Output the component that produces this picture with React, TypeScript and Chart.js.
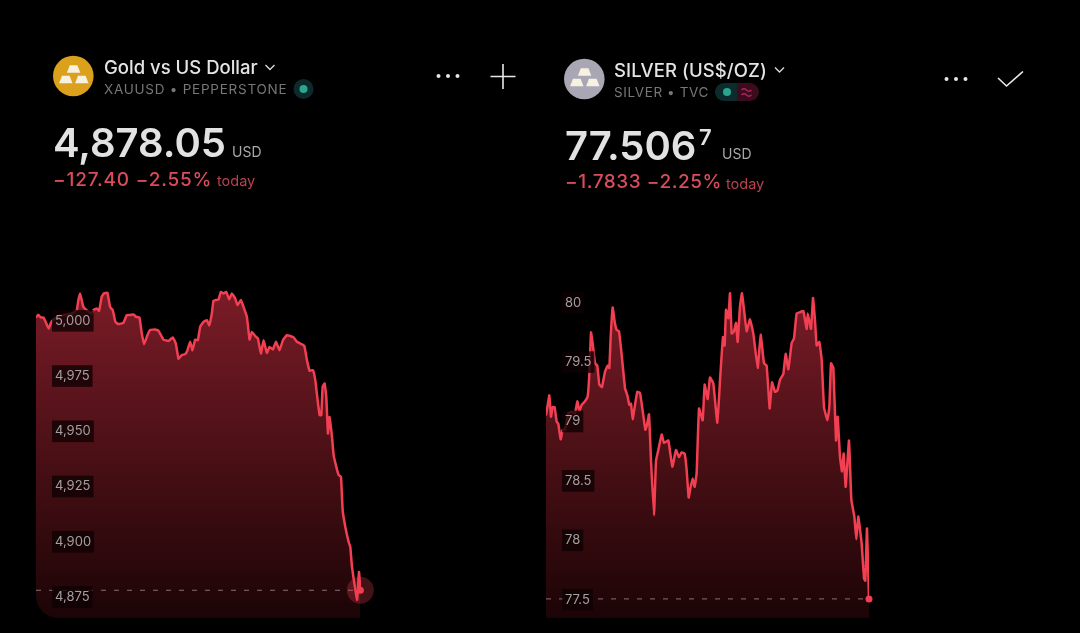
import React, { useEffect, useRef } from "react";
import { Chart, registerables } from "chart.js";

Chart.register(...registerables);

// Session time (minutes since the chart's left edge) and price for each instrument.
const goldMinutes = [0,7,14,22,30,38,46,57,82,107,122,127,132,137,142,152,167,172,182,189,197,204,214,222,230,238,247,262,272,282,292,300,310,317,324,334,342,357,367,382,397,410,419,427,437,447,454,462,469,477,485,492,502,512,519,527,532,547,554,562,570,579,587,597,604,614,622,632,640,647,657,665,674,682,692,700,710,719,730,740,752,762,772,782,792,804,812,820,830,837,844,850,855,859,865,870,875,880,887,892,900,907,914,919,927,937,942,947,962,968,972];
const goldPrices = [5001.5,5002.7,5001.5,5001.5,4999.1,4996.5,4999.5,5001.1,5002.6,5003.3,5004.8,5009.4,5012.4,5009.4,5006.3,5004.8,5003.3,5004.8,5005.6,5004.5,5010.9,5012.4,5012.7,5006.3,5004.8,4999.5,4998.5,4999.1,5002.6,5002.6,5002.9,5001.8,5001.5,4994.3,4989.4,4993.5,4995.8,4996.1,4995.5,4991.5,4990.9,4992.5,4989.7,4982.9,4984.5,4984.9,4986.7,4990.5,4986.7,4991.5,4991.2,4997.3,4999.5,5000.3,4998.0,5003.3,5009.1,5009.7,5013.1,5012.4,5013.1,5009.7,5012.4,5010.1,5007.1,5009.4,5006.3,5001.8,4991.5,4995.0,4993.1,4992.0,4985.2,4991.2,4985.5,4988.2,4987.0,4990.5,4986.7,4991.2,4993.5,4993.1,4992.5,4990.5,4989.7,4988.7,4982.2,4977.4,4977.7,4973.1,4964.1,4957.3,4957.3,4970.1,4971.6,4965.6,4949.0,4956.5,4947.5,4939.2,4933.9,4930.2,4929.4,4914.3,4906.7,4899.9,4897.6,4888.6,4873.8,4886.3,4878.05];
const goldTicks = [4875, 4900, 4925, 4950, 4975, 5000];
const goldLast = 4878.05;

const silverMinutes = [0,4,10,15,20,26,32,37,44,50,57,67,77,87,94,100,107,117,125,130,135,140,147,154,160,168,177,185,190,194,200,206,212,219,227,237,244,250,255,260,267,274,282,289,298,302,309,315,324,330,337,347,354,367,379,390,399,407,416,422,428,434,440,446,452,459,470,476,485,492,502,514,523,531,536,540,547,552,557,564,570,575,582,588,594,602,612,622,635,644,654,662,671,678,687,694,702,712,719,727,737,744,752,762,772,782,785,795,801,807,812,820,827,834,844,850,855,862,870,875,882,888,893,899,909,916,925,931,937,947,954,958,963,969];
const silverPrices = [79.05,79.12,79.22,79.04,79.12,79.12,79.0,78.98,78.85,78.93,78.93,79.07,79.08,79.07,79.17,79.09,79.14,79.17,79.21,79.4,79.75,79.66,79.49,79.47,79.31,79.29,79.42,79.47,79.45,79.71,79.96,79.84,79.77,79.76,79.56,79.28,79.22,79.14,79.15,79.02,79.14,79.25,79.24,79.11,78.93,78.96,79.06,78.67,78.21,78.67,78.76,78.89,78.82,78.84,78.62,78.76,78.7,78.74,78.73,78.59,78.36,78.45,78.52,78.45,78.57,79.11,79.01,79.31,79.19,79.37,79.32,78.99,79.39,79.71,79.64,79.94,79.87,80.08,79.74,79.76,79.83,79.67,79.97,80.08,79.94,79.76,79.86,79.74,79.45,79.73,79.49,79.47,79.11,79.33,79.25,79.26,79.35,79.4,79.57,79.44,79.66,79.7,79.91,79.92,79.93,79.78,79.91,79.78,80.04,79.85,79.64,79.67,79.52,79.12,79.01,79.12,79.49,79.45,78.84,79.04,78.7,78.58,78.73,78.45,78.84,78.34,78.2,78.01,78.2,77.97,77.68,77.66,78.1,77.5067];
const silverTicks = [77.5, 78, 78.5, 79, 79.5, 80];
const silverLast = 77.5067;

const LINE = "#f23f52";
const SANS = "Inter, 'Noto Sans', sans-serif";

type PanelProps = {
  minutes: number[];
  prices: number[];
  ticks: number[];
  last: number;
  yMin: number;
  yMax: number;
  xMax: number;
  halo: boolean;
  style: React.CSSProperties;
  rightPad: number;
};

function Panel({ minutes, prices, ticks, last, yMin, yMax, xMax, halo, style, rightPad }: PanelProps) {
  const ref = useRef<HTMLCanvasElement>(null);
  useEffect(() => {
    if (!ref.current) return;
    const lastX = minutes[minutes.length - 1];
    const fill = (ctx: any) => {
      const area = ctx.chart.chartArea;
      if (!area) return "transparent";
      const g = ctx.chart.ctx.createLinearGradient(0, area.top, 0, area.bottom);
      g.addColorStop(0, "#7c1c28");
      g.addColorStop(0.5, "#4b1016");
      g.addColorStop(1, "#1c0406");
      return g;
    };
    const chart = new Chart(ref.current, {
      type: "line",
      data: {
        datasets: [
          {
            data: minutes.map((x, i) => ({ x, y: prices[i] })),
            borderColor: LINE,
            borderWidth: 2.5,
            pointRadius: 0,
            tension: 0.1,
            fill: "start",
            backgroundColor: fill,
            order: 2,
          },
          {
            data: [{ x: 0, y: last }, { x: lastX, y: last }],
            borderColor: "rgba(215,205,205,0.55)",
            borderWidth: 1,
            borderDash: [5, 8],
            pointRadius: 0,
            fill: false,
            order: 1,
          },
          ...(halo
            ? [{
                data: [{ x: lastX, y: last }],
                pointRadius: 13.5,
                pointBackgroundColor: "rgba(242,63,82,0.28)",
                pointBorderWidth: 0,
                showLine: false,
                clip: false as any,
                order: 0,
              }]
            : []),
          {
            data: [{ x: lastX, y: last }],
            pointRadius: 3.5,
            pointBackgroundColor: LINE,
            pointBorderWidth: 0,
            showLine: false,
            clip: false as any,
            order: 0,
          },
        ],
      },
      options: {
        animation: false,
        responsive: false,
        layout: { autoPadding: false, padding: { left: 0, right: rightPad, top: 5, bottom: 0 } },
        plugins: { legend: { display: false }, tooltip: { enabled: false } },
        scales: {
          x: { type: "linear", display: false, min: 0, max: xMax },
          y: {
            min: yMin,
            max: yMax,
            position: "left",
            border: { display: false },
            grid: { display: false, drawTicks: false },
            afterFit: (s: any) => { s.width = 0; s.paddingTop = 0; s.paddingBottom = 0; },
            afterBuildTicks: (s: any) => { s.ticks = ticks.map((value) => ({ value })); },
            ticks: {
              mirror: true,
              z: 1,
              padding: 19,
              autoSkip: false,
              color: "#a3a0a0",
              font: { family: SANS, size: 13 },
              showLabelBackdrop: true,
              backdropColor: "rgba(14,1,3,0.78)",
              backdropPadding: { left: 3, right: 3, top: 3, bottom: 3 },
              callback: (v: any) => Number(v).toLocaleString("en-US"),
            },
          },
        },
      },
    } as any);
    return () => chart.destroy();
  }, []);
  const w = style.width as number;
  const h = style.height as number;
  return (
    <div style={{ position: "absolute", overflow: "hidden", ...style }}>
      <canvas ref={ref} width={w} height={h} style={{ display: "block", width: w, height: h }} />
    </div>
  );
}

function T({ x, y, size, color, weight = 400, spacing = 0, children }: any) {
  return (
    <div
      style={{
        position: "absolute", left: x, top: y - 25, height: 50, lineHeight: "50px",
        fontFamily: SANS, fontSize: size, color, fontWeight: weight,
        letterSpacing: spacing, whiteSpace: "pre",
      }}
    >
      {children}
    </div>
  );
}

function Bars({ cx, cy, color }: { cx: number; cy: number; color: string }) {
  const bar = (dx: number, dy: number) => (
    <path
      d={`M${cx + dx - 6.7} ${cy + dy + 3.8} L${cx + dx - 3.8} ${cy + dy - 3.8} L${cx + dx + 3.8} ${cy + dy - 3.8} L${cx + dx + 6.7} ${cy + dy + 3.8} Z`}
      fill="#f7f1e2"
    />
  );
  return (
    <g>
      <circle cx={cx} cy={cy} r={20.3} fill={color} />
      {bar(0.3, -7)}
      {bar(-7.5, 3.5)}
      {bar(8.5, 3.5)}
    </g>
  );
}

function Dots({ x, y }: { x: number; y: number }) {
  return (
    <g fill="#e6e6e6">
      <circle cx={x - 9.5} cy={y} r={2} />
      <circle cx={x} cy={y} r={2} />
      <circle cx={x + 9.5} cy={y} r={2} />
    </g>
  );
}

export default function App() {
  return (
    <div style={{ position: "fixed", inset: 0, background: "#000", overflow: "hidden", filter: "blur(0.4px)" }}>
      <Panel
        minutes={goldMinutes} prices={goldPrices} ticks={goldTicks} last={goldLast}
        yMin={4865.5} yMax={5016.2} xMax={974} halo rightPad={20}
        style={{ left: 36, top: 280, width: 345, height: 338, borderBottomLeftRadius: 22 }}
      />
      <Panel
        minutes={silverMinutes} prices={silverPrices} ticks={silverTicks} last={silverLast}
        yMin={77.346} yMax={80.149} xMax={969} halo={false} rightPad={12}
        style={{ left: 546, top: 280, width: 335, height: 338 }}
      />
      <svg width={1080} height={633} style={{ position: "absolute", left: 0, top: 0 }}>
        <Bars cx={73.3} cy={76} color="#dba11c" />
        <Bars cx={584.3} cy={79} color="#a9a7b4" />
        <path d="M265.5 65 L270 69.5 L274.5 65" fill="none" stroke="#d8d8d8" strokeWidth={1.4} />
        <path d="M775 67.5 L779.5 72 L784 67.5" fill="none" stroke="#d8d8d8" strokeWidth={1.4} />
        <circle cx={303.5} cy={89} r={10} fill="#0c2a2b" />
        <circle cx={303.5} cy={89} r={4} fill="#2ba58e" />
        <path d="M724 83 H737 V101 H724 A9 9 0 0 1 724 83 Z" fill="#0b2b2c" />
        <path d="M737 83 H750 A9 9 0 0 1 750 101 H737 Z" fill="#3a0c1e" />
        <circle cx={727} cy={92} r={4} fill="#2ba58e" />
        <path d="M741.5 90 q2.5 -2.5 5 0 t5 0 M741.5 95 q2.5 -2.5 5 0 t5 0" fill="none" stroke="#b3245a" strokeWidth={1.3} />
        <Dots x={448} y={76} />
        <Dots x={956} y={79} />
        <path d="M490.5 76.5 H515.5 M503 64 V89" stroke="#e8e8e8" strokeWidth={1.6} />
        <path d="M998 78 L1006.5 86 L1023 71.5" fill="none" stroke="#e8e8e8" strokeWidth={1.6} />
      </svg>

      <T x={104} y={67} size={18.5} color="#e4e4e4" weight={500}>Gold vs US Dollar</T>
      <T x={104} y={89} size={13.5} color="#777" spacing={0.75}>XAUUSD • PEPPERSTONE</T>
      <T x={53} y={143} size={40} color="#e2e2e2" weight={600}>4,878.05</T>
      <T x={232} y={152} size={14} color="#a8a8a8">USD</T>
      <T x={53} y={180} size={19} color="#d94c5c" weight={500} spacing={0.8}>−127.40 −2.55%</T>
      <T x={217} y={181} size={14.5} color="#b8434f">today</T>

      <T x={614} y={70} size={18.5} color="#e4e4e4" weight={500} spacing={0.1}>SILVER (US$/OZ)</T>
      <T x={614} y={92} size={13.5} color="#777" spacing={0.6}>SILVER • TVC</T>
      <T x={565} y={146} size={40} color="#e2e2e2" weight={600}>77.506</T>
      <T x={699} y={137} size={22} color="#e2e2e2" weight={600}>7</T>
      <T x={722} y={154} size={14} color="#a8a8a8">USD</T>
      <T x={565} y={182} size={19} color="#d94c5c" weight={500} spacing={0.55}>−1.7833 −2.25%</T>
      <T x={726} y={184} size={14.5} color="#b8434f">today</T>
    </div>
  );
}
